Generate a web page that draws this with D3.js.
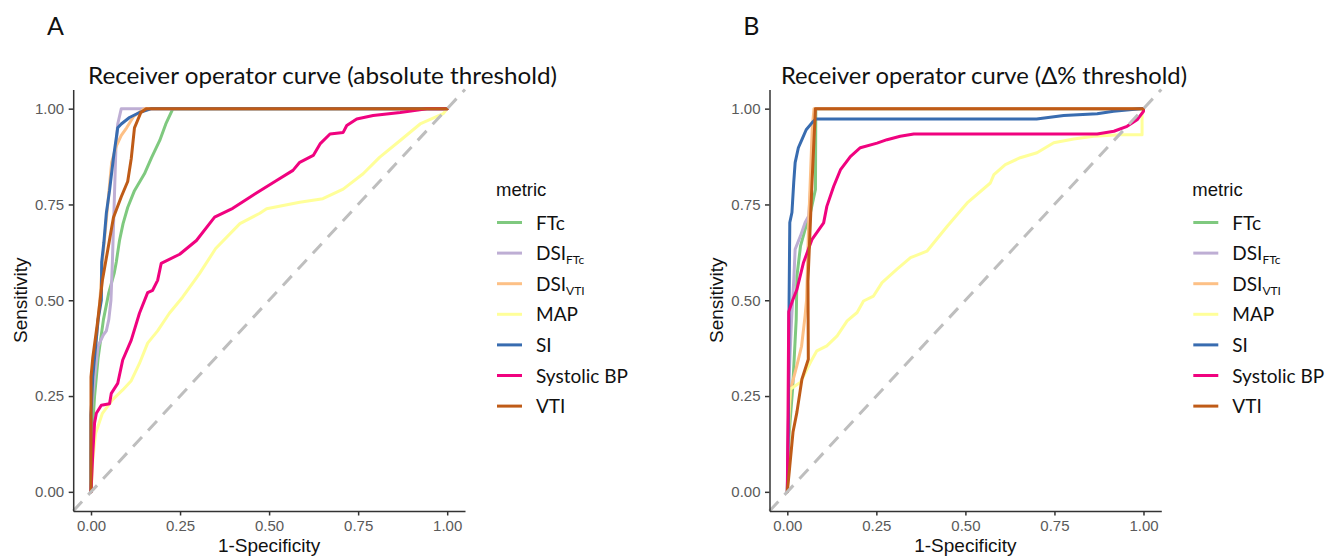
<!DOCTYPE html>
<html><head><meta charset="utf-8">
<script src="https://cdn.jsdelivr.net/npm/d3@7"></script>
<style>body{margin:0;background:#fff}svg{display:block}</style>
</head><body>
<svg id="c" width="1333" height="560"></svg>
<script>
// ---------- data ----------
const metrics = ["FTc", "DSI_FTc", "DSI_VTI", "MAP", "SI", "Systolic BP", "VTI"];
const metricColors = ["#7fc97f", "#beaed4", "#fdc086", "#ffff99", "#386cb0", "#f0027f", "#bf5b17"];
const xTickValues = [0, 0.25, 0.5, 0.75, 1];
const yTickValues = [0, 0.25, 0.5, 0.75, 1];
const diagonal = [[-0.05, -0.05], [1.05, 1.05]];

// Panel A (absolute threshold): [1-specificity, sensitivity]
const A_FTc = [[0,0],[0,0.1],[0.01,0.25],[0.02,0.35],[0.035,0.45],[0.05,0.52],[0.065,0.57],[0.071,0.6],[0.08,0.656],[0.09,0.70],[0.103,0.742],[0.122,0.786],[0.15,0.83],[0.17,0.872],[0.193,0.917],[0.21,0.96],[0.23,1.0],[1,1]];
const A_DSI_FTc = [[0,0],[0,0.2],[0.01,0.3],[0.02,0.38],[0.035,0.41],[0.043,0.42],[0.05,0.45],[0.056,0.5],[0.06,0.6],[0.065,0.75],[0.07,0.9],[0.075,0.96],[0.085,1.0],[1,1]];
const A_DSI_VTI = [[0,0],[0,0.2],[0.005,0.3],[0.015,0.4],[0.025,0.5],[0.032,0.6],[0.042,0.7],[0.05,0.78],[0.058,0.86],[0.07,0.9],[0.085,0.93],[0.1,0.95],[0.12,0.98],[0.15,1],[1,1]];
const A_MAP = [[0,0],[0.005,0.083],[0.013,0.153],[0.032,0.205],[0.06,0.24],[0.089,0.266],[0.113,0.29],[0.136,0.335],[0.159,0.388],[0.187,0.42],[0.22,0.466],[0.257,0.508],[0.291,0.552],[0.305,0.57],[0.35,0.635],[0.418,0.70],[0.474,0.727],[0.493,0.739],[0.586,0.756],[0.651,0.765],[0.708,0.79],[0.764,0.83],[0.81,0.873],[0.868,0.917],[0.924,0.96],[0.989,0.987],[1,1]];
const A_SI = [[0,0],[0,0.2],[0.005,0.3],[0.01,0.35],[0.02,0.45],[0.029,0.5],[0.03,0.6],[0.036,0.65],[0.043,0.727],[0.052,0.786],[0.063,0.872],[0.075,0.95],[0.085,0.96],[0.108,0.977],[0.136,0.99],[0.17,1],[1,1]];
const A_SBP = [[0,0],[0.005,0.1],[0.01,0.18],[0.015,0.205],[0.029,0.226],[0.052,0.23],[0.057,0.257],[0.075,0.283],[0.089,0.344],[0.113,0.396],[0.136,0.466],[0.159,0.52],[0.173,0.526],[0.187,0.552],[0.197,0.596],[0.249,0.62],[0.296,0.656],[0.347,0.717],[0.398,0.74],[0.446,0.769],[0.521,0.8125],[0.567,0.839],[0.586,0.86],[0.624,0.878],[0.643,0.908],[0.671,0.934],[0.708,0.938],[0.718,0.956],[0.746,0.973],[0.792,0.982],[0.868,0.99],[0.943,1.0],[1,1]];
const A_VTI = [[0,0],[0,0.30],[0.005,0.35],[0.018,0.44],[0.032,0.552],[0.043,0.61],[0.063,0.716],[0.085,0.77],[0.103,0.81],[0.113,0.87],[0.122,0.95],[0.14,0.99],[0.155,1],[1,1]];

// Panel B (delta % threshold)
const B_FTc = [[0,0],[0.005,0.15],[0.015,0.27],[0.025,0.45],[0.027,0.563],[0.037,0.641],[0.05,0.685],[0.065,0.729],[0.079,0.789],[0.08,1],[1,1]];
const B_DSI_FTc = [[0,0],[0.005,0.3],[0.012,0.45],[0.018,0.55],[0.022,0.633],[0.037,0.668],[0.05,0.703],[0.06,0.72],[0.07,0.85],[0.078,1],[1,1]];
const B_DSI_VTI = [[0,0],[0.005,0.2],[0.01,0.27],[0.027,0.33],[0.04,0.38],[0.05,0.46],[0.054,0.5],[0.06,0.7],[0.07,0.95],[0.075,1],[1,1]];
const B_MAP = [[0,0],[0.004,0.2],[0.008,0.268],[0.037,0.286],[0.065,0.338],[0.083,0.368],[0.111,0.381],[0.14,0.407],[0.168,0.446],[0.196,0.468],[0.214,0.498],[0.242,0.511],[0.266,0.546],[0.308,0.581],[0.346,0.611],[0.392,0.628],[0.449,0.693],[0.505,0.754],[0.57,0.806],[0.58,0.828],[0.612,0.854],[0.654,0.872],[0.701,0.885],[0.748,0.911],[0.804,0.921],[0.86,0.928],[0.935,0.932],[0.996,0.932],[0.996,0.984],[1,1]];
const B_SI = [[0,0],[0.003,0.15],[0.005,0.5],[0.007,0.703],[0.013,0.729],[0.018,0.807],[0.022,0.859],[0.031,0.898],[0.041,0.919],[0.053,0.945],[0.069,0.963],[0.08,0.973],[0.70,0.973],[0.776,0.982],[0.87,0.987],[0.916,0.993],[0.99,1.0],[1,1]];
const B_SBP = [[0,0],[0.002,0.2],[0.004,0.47],[0.015,0.5],[0.027,0.528],[0.045,0.597],[0.069,0.658],[0.102,0.702],[0.111,0.745],[0.13,0.797],[0.149,0.84],[0.177,0.875],[0.205,0.898],[0.252,0.91],[0.28,0.919],[0.317,0.928],[0.355,0.934],[0.87,0.934],[0.917,0.941],[0.954,0.954],[0.982,0.971],[1.0,0.993],[1,1]];
const B_VTI = [[0,0],[0.007,0.068],[0.016,0.156],[0.027,0.208],[0.041,0.294],[0.059,0.346],[0.058,0.55],[0.069,0.8],[0.079,1.0],[1,1]];

const panelA = {letter: "A", title: "Receiver operator curve (absolute threshold)",
  series: [A_FTc, A_DSI_FTc, A_DSI_VTI, A_MAP, A_SI, A_SBP, A_VTI]};
const panelB = {letter: "B", title: "Receiver operator curve (\u0394% threshold)",
  series: [B_FTc, B_DSI_FTc, B_DSI_VTI, B_MAP, B_SI, B_SBP, B_VTI]};

// ---------- drawing ----------
const svg = d3.select("#c");
svg.append("rect").attr("width", 1333).attr("height", 560).attr("fill", "#fff");
const humanist = "Lato, 'Open Sans', sans-serif";
const arial = "'Liberation Sans', Arial, sans-serif";

function drawPanel(p, ox, layout) {
  const g = svg.append("g").attr("transform", `translate(${ox},0)`);
  const L = 73.2, R = 465, T = 89.5, B = 511;
  const x = d3.scaleLinear().domain([-0.05, 1.05]).range([L, R]);
  const y = d3.scaleLinear().domain([-0.05, 1.05]).range([B, T]);

  g.append("text").attr("x", 47).attr("y", 35).text(p.letter)
    .attr("font-family", humanist).attr("font-size", 25).attr("fill", "#111");
  g.append("text").attr("x", layout.titleX).attr("y", 84).text(p.title)
    .attr("font-family", humanist).attr("font-size", 22.5).attr("fill", "#111")
    .attr("textLength", layout.titleW).attr("lengthAdjust", "spacingAndGlyphs");

  const line = d3.line().x(d => x(d[0])).y(d => y(d[1]));
  p.series.forEach((s, i) => {
    g.append("path").datum(s).attr("d", line).attr("fill", "none")
      .attr("stroke", metricColors[i]).attr("stroke-width", 3)
      .attr("stroke-linejoin", "round").attr("stroke-linecap", "round");
  });
  g.append("path").datum(diagonal).attr("d", line).attr("fill", "none")
    .attr("stroke", "#bebebe").attr("stroke-width", 3).attr("stroke-dasharray", "13,9");

  const xa = g.append("g").attr("transform", `translate(0,${B})`)
    .call(d3.axisBottom(x).tickValues(xTickValues).tickFormat(d3.format(".2f")).tickSize(4.5).tickPadding(4.5).tickSizeOuter(0));
  const ya = g.append("g").attr("transform", `translate(${L},0)`)
    .call(d3.axisLeft(y).tickValues(yTickValues).tickFormat(d3.format(".2f")).tickSize(4.5).tickPadding(4.5).tickSizeOuter(0));
  [xa, ya].forEach(a => {
    a.select(".domain").attr("stroke", "#333").attr("stroke-width", 1.5);
    a.selectAll(".tick line").attr("stroke", "#333").attr("stroke-width", 1.5);
    a.selectAll(".tick text").attr("font-family", arial).attr("font-size", 15).attr("fill", "#5a5a5a");
  });
  g.append("text").attr("x", (L + R) / 2).attr("y", 552).attr("text-anchor", "middle")
    .text("1-Specificity").attr("font-family", arial).attr("font-size", 19).attr("fill", "#111");
  g.append("text").attr("transform", `translate(27,${(T + B) / 2}) rotate(-90)`).attr("text-anchor", "middle")
    .text("Sensitivity").attr("font-family", arial).attr("font-size", 19).attr("fill", "#111");

  const lg = g.append("g");
  lg.append("text").attr("x", 496).attr("y", 196).text("metric")
    .attr("font-family", arial).attr("font-size", 18.5).attr("fill", "#111");
  metrics.forEach((m, i) => {
    const cy = 222.5 + i * 30.6;
    lg.append("line").attr("x1", 497).attr("x2", 522).attr("y1", cy).attr("y2", cy)
      .attr("stroke", metricColors[i]).attr("stroke-width", 3);
    const t = lg.append("text").attr("x", 536).attr("y", cy + 7)
      .attr("font-family", humanist).attr("font-size", 19).attr("fill", "#111");
    const parts = m.split("_");
    t.append("tspan").text(parts[0]);
    if (parts[1]) t.append("tspan").attr("font-size", 12).attr("dy", 4).text(parts[1]);
  });
}

drawPanel(panelA, 0, {titleX: 88, titleW: 469});
drawPanel(panelB, 696.3, {titleX: 84.7, titleW: 406});
</script>
</body></html>
